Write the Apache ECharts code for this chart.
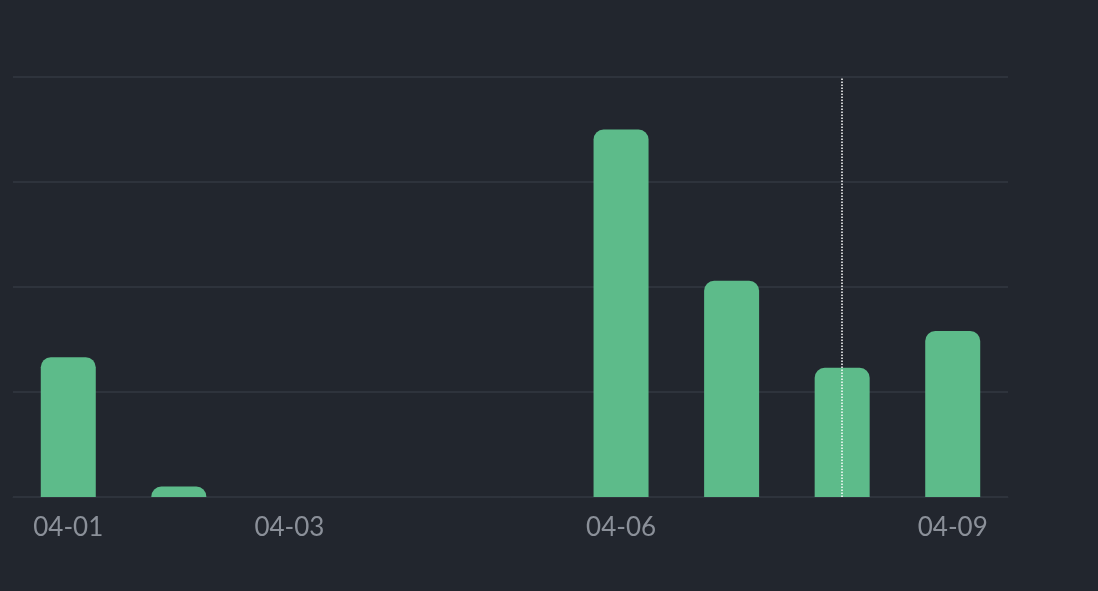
<!DOCTYPE html>
<html><head><meta charset="utf-8">
<script src="https://cdn.jsdelivr.net/npm/echarts@6/dist/echarts.min.js"></script>
<style>html,body{margin:0;background:#22262e;}#c{width:1098px;height:591px;}</style>
</head><body><div id="c"></div>
<script>
var days = ['04-01','04-02','04-03','04-04','04-05','04-06','04-07','04-08','04-09'];
var values = [1.33, 0.1, 0, 0, 0, 3.5, 2.06, 1.23, 1.58];
var shownLabels = [0, 2, 5, 8];
var chart = echarts.init(document.getElementById('c'));
chart.setOption({
  backgroundColor: '#22262e',
  grid: {left: 13, right: 90, top: 77, bottom: 94},
  xAxis: {
    type: 'category', data: days,
    axisLine: {show: true, lineStyle: {color: '#2e333c'}},
    axisTick: {show: false},
    axisLabel: {
      color: '#8b9099', fontSize: 26, fontFamily: 'Lato', margin: 18,
      interval: function (i) { return shownLabels.indexOf(i) >= 0; }
    }
  },
  yAxis: {
    type: 'value', min: 0, max: 4, interval: 1,
    axisLabel: {show: false},
    splitLine: {lineStyle: {color: '#2e333c', width: 2}}
  },
  series: [{
    type: 'bar', data: values, barWidth: 55,
    itemStyle: {color: '#5dbb8a', borderRadius: [10, 10, 0, 0]},
    markLine: {
      silent: true, symbol: 'none', label: {show: false},
      lineStyle: {color: '#ffffff', type: 'dotted', width: 1.5},
      data: [{xAxis: '04-08'}]
    }
  }]
});
</script></body></html>
